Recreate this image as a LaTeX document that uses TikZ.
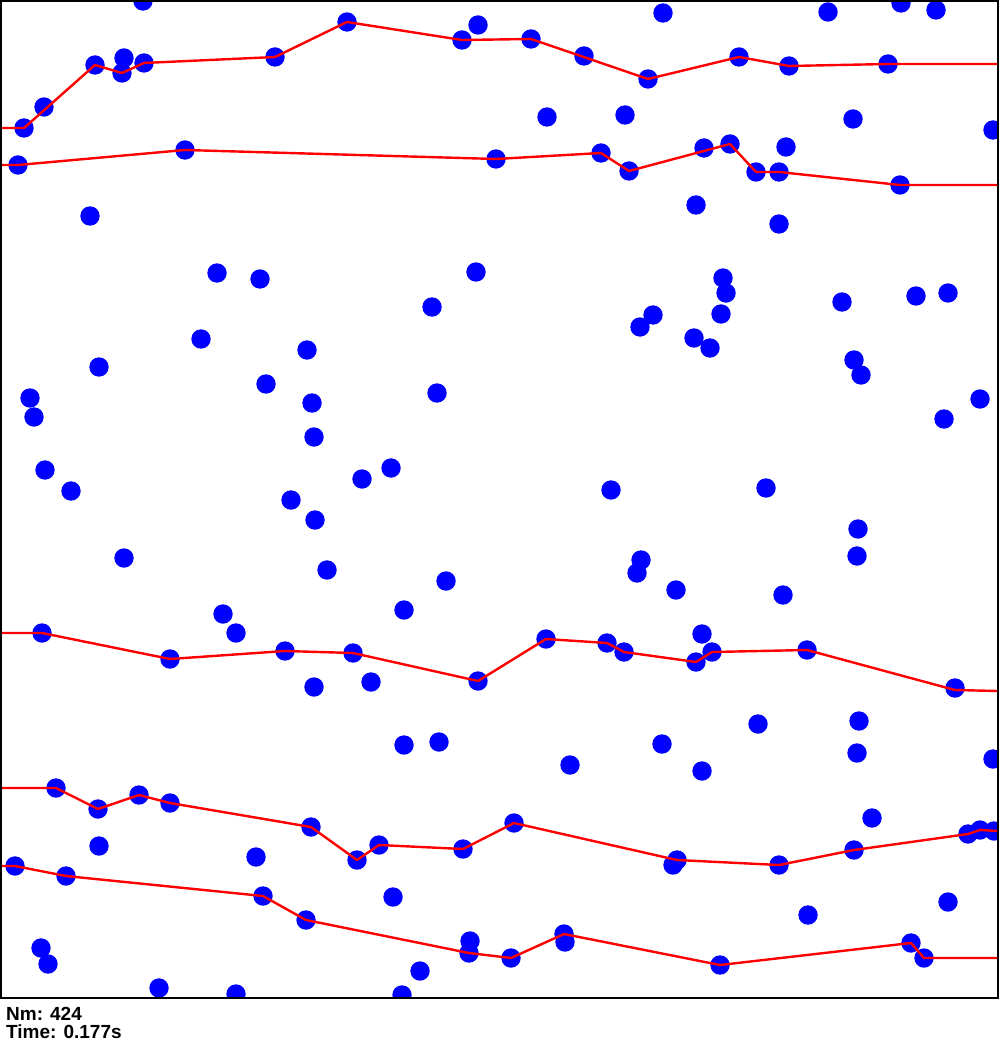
\documentclass[tikz,border=0pt]{standalone}
\usepackage{fontspec}
\setmainfont{Liberation Sans}
\tikzset{
  ball/.style={fill=blue},
  route/.style={red, line width=2.4pt, line join=round},
  frame/.style={black, line width=2.5pt},
  caption/.style={anchor=base west, inner sep=0pt, font=\bfseries\fontsize{19}{18}\selectfont}
}
\begin{document}
\begin{tikzpicture}[x=1pt,y=-1pt]
\useasboundingbox (0,0) rectangle (1000,1040);
\begin{scope}
\clip (0,0) rectangle (998,998);
\foreach \x/\y in {
  143/1, 24/128, 44/107, 95/65, 124/58, 122/73, 144/63, 275/57, 347/22, 462/40, 478/25,
  18/165, 185/150, 496/159, 90/216, 217/273, 260/279, 476/272, 432/307, 201/339, 307/350,
  663/13, 828/12, 901/3, 936/10, 531/39, 584/56, 648/79, 739/57, 789/66, 888/64,
  547/117, 625/115, 853/119, 993/130, 601/153, 629/171, 704/148, 730/144, 786/147,
  756/172, 779/172, 900/185, 696/205, 779/224, 723/278, 726/293, 721/314, 653/315,
  640/327, 694/338, 710/348, 842/302, 916/296, 948/293,
  99/367, 30/398, 34/417, 266/384, 312/403, 314/437, 437/393, 45/470, 71/491, 291/500,
  315/520, 362/479, 391/468, 124/558, 327/570, 446/581, 404/610, 223/614, 236/633,
  42/633, 170/659, 285/651, 353/653, 478/681, 314/687, 371/682,
  854/360, 861/375, 980/399, 944/419, 611/490, 766/488, 858/529, 857/556, 641/560,
  637/573, 676/590, 783/595, 702/634, 546/639, 607/643, 624/652, 696/662, 712/652,
  807/650, 955/688,
  404/745, 439/742, 56/788, 98/809, 139/795, 170/803, 311/827, 357/860, 379/845,
  463/849, 99/846, 256/857, 15/866, 66/876, 263/896, 306/920, 393/897, 470/941,
  469/953, 420/971, 41/948, 48/964, 159/988, 236/994, 402/995,
  570/765, 662/744, 702/771, 758/724, 859/721, 857/753, 993/759, 872/818, 514/823,
  677/860, 673/865, 779/865, 854/850, 968/834, 980/830, 994/831, 808/915, 948/902,
  511/958, 564/934, 565/942, 720/965, 911/943, 924/958}
  \fill[ball] (\x,\y) circle (9.7pt);
\draw[route] (0,128) -- (24,128) -- (95,65) -- (122,73) -- (144,63) -- (275,57) -- (347,22)
  -- (462,40) -- (531,39) -- (648,79) -- (739,57) -- (789,66) -- (888,64) -- (998,64);
\draw[route] (0,165) -- (18,165) -- (185,150) -- (496,159) -- (601,153) -- (629,171)
  -- (730,144) -- (756,172) -- (779,172) -- (900,185) -- (998,185);
\draw[route] (0,633) -- (42,633) -- (170,659) -- (285,651) -- (353,653) -- (478,681)
  -- (546,639) -- (607,643) -- (624,652) -- (696,662) -- (712,652) -- (807,650)
  -- (955,690) -- (998,691);
\draw[route] (0,788) -- (56,788) -- (98,809) -- (139,795) -- (170,803) -- (311,827)
  -- (357,860) -- (379,845) -- (463,849) -- (514,823) -- (677,860) -- (779,865)
  -- (854,850) -- (968,834) -- (980,830) -- (998,831);
\draw[route] (0,866) -- (15,866) -- (66,876) -- (263,896) -- (306,920) -- (469,953)
  -- (511,958) -- (564,934) -- (720,965) -- (911,943) -- (924,958) -- (998,958);
\end{scope}
\draw[frame] (1,1) rectangle (998,998);
\node[caption] (nm) at (6,1020) {Nm: 424};
\node[caption] (time) at (6,1038) {Time: 0.177s};
\end{tikzpicture}
\end{document}
